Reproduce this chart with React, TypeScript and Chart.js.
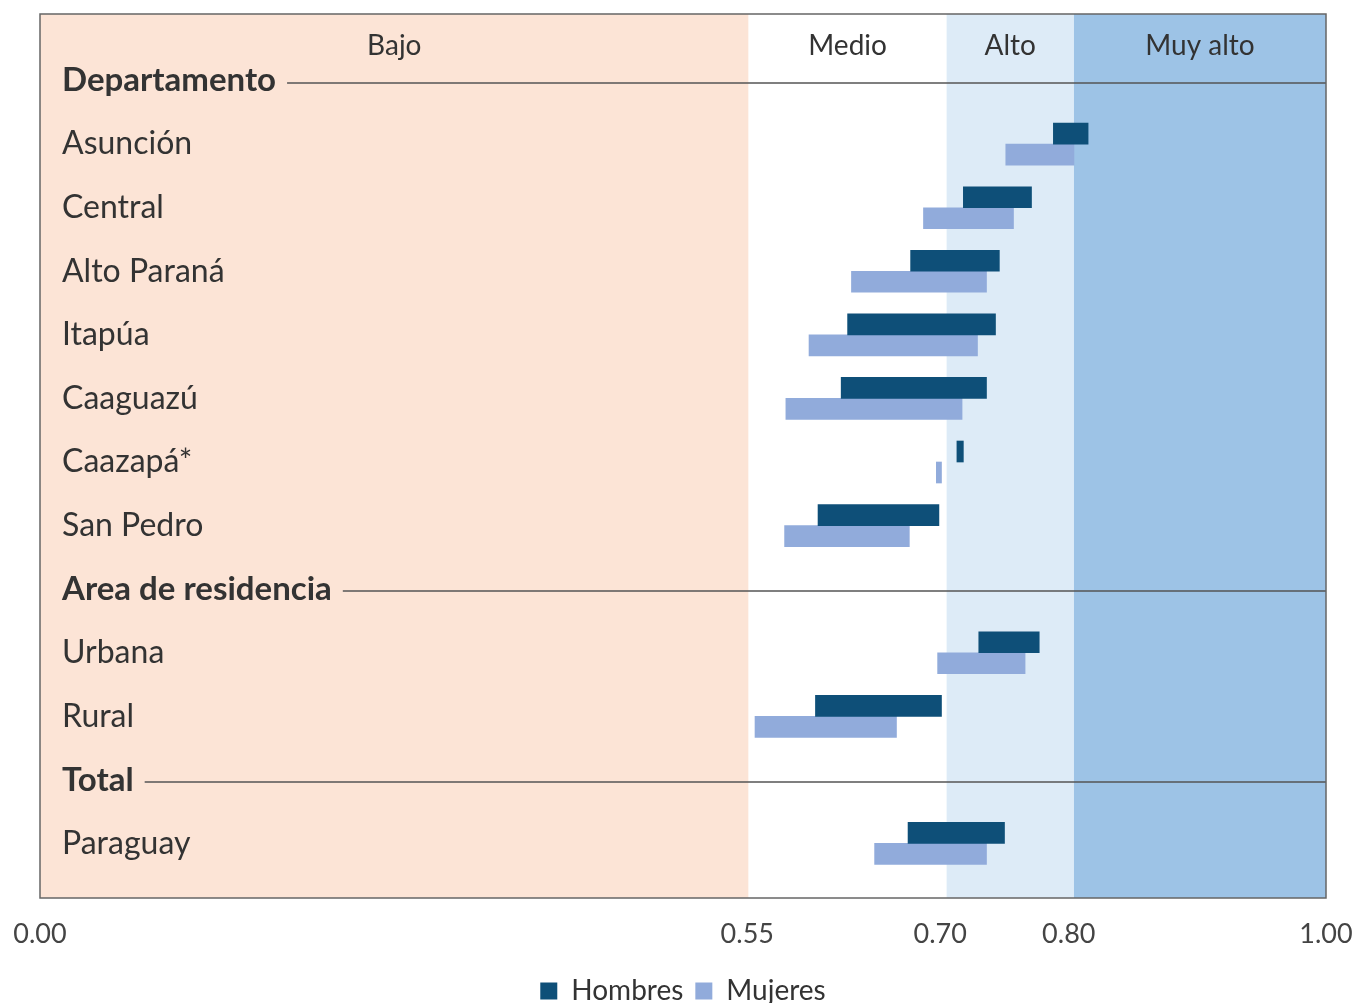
import React, { useEffect, useRef } from "react";
import { Chart, registerables } from "chart.js";

Chart.register(...registerables);

const rowLabels = [
  "Departamento",
  "Asunción",
  "Central",
  "Alto Paraná",
  "Itapúa",
  "Caaguazú",
  "Caazapá*",
  "San Pedro",
  "Area de residencia",
  "Urbana",
  "Rural",
  "Total",
  "Paraguay",
];
const headerRows = [0, 8, 11];

const hombresLow = [null, 0.788, 0.718, 0.677, 0.628, 0.623, 0.713, 0.605, null, 0.73, 0.603, null, 0.675];
const hombresHigh = [null, 0.815, 0.771, 0.746, 0.743, 0.736, 0.718, 0.699, null, 0.777, 0.701, null, 0.75];
const mujeresLow = [null, 0.751, 0.687, 0.631, 0.598, 0.58, 0.697, 0.579, null, 0.698, 0.556, null, 0.649];
const mujeresHigh = [null, 0.804, 0.757, 0.736, 0.729, 0.717, 0.701, 0.676, null, 0.766, 0.666, null, 0.736];

const bandLabels = ["Bajo", "Medio", "Alto", "Muy alto"];
const bandEdges = [0, 0.551, 0.705, 0.804, 1.0];
const bandColors = ["#FCE4D6", "#FFFFFF", "#DDEBF7", "#9DC3E6"];
const xTickValues = [0, 0.55, 0.7, 0.8, 1.0];

const FONT = "Lato";
const TEXT = "#333333";

function toPoints(lo: (number | null)[], hi: (number | null)[]) {
  const pts: { y: number; x: [number, number] }[] = [];
  lo.forEach((l, i) => {
    const h = hi[i];
    if (l !== null && h !== null) pts.push({ y: i, x: [l, h] });
  });
  return pts;
}

const bandsPlugin = {
  id: "bands",
  beforeDraw(chart: any) {
    const { ctx, chartArea } = chart;
    const xs = chart.scales.x;
    const ys = chart.scales.y;
    ctx.save();
    for (let i = 0; i < bandLabels.length; i++) {
      const x0 = xs.getPixelForValue(bandEdges[i]);
      const x1 = xs.getPixelForValue(bandEdges[i + 1]);
      ctx.fillStyle = bandColors[i];
      ctx.fillRect(x0, chartArea.top, x1 - x0, chartArea.bottom - chartArea.top);
    }
    ctx.fillStyle = TEXT;
    ctx.font = `28px ${FONT}`;
    ctx.textAlign = "center";
    ctx.textBaseline = "middle";
    const ly = ys.getPixelForValue(-0.55);
    for (let i = 0; i < bandLabels.length; i++) {
      const x0 = xs.getPixelForValue(bandEdges[i]);
      const x1 = xs.getPixelForValue(bandEdges[i + 1]);
      ctx.fillText(bandLabels[i], (x0 + x1) / 2, ly);
    }
    ctx.restore();
  },
  beforeDatasetsDraw(chart: any) {
    const { ctx, chartArea } = chart;
    const ys = chart.scales.y;
    ctx.save();
    ctx.font = `bold 33px ${FONT}`;
    ctx.strokeStyle = "#555555";
    ctx.lineWidth = 1.5;
    headerRows.forEach((r) => {
      const w = ctx.measureText(rowLabels[r]).width;
      const y = Math.round(ys.getPixelForValue(r)) + 2;
      ctx.beginPath();
      ctx.moveTo(chartArea.left + 22 + w + 11, y);
      ctx.lineTo(chartArea.right, y);
      ctx.stroke();
    });
    ctx.restore();
  },
  afterDatasetsDraw(chart: any) {
    const { ctx, chartArea } = chart;
    ctx.save();
    ctx.strokeStyle = "#666666";
    ctx.lineWidth = 1.5;
    ctx.strokeRect(chartArea.left, chartArea.top, chartArea.right - chartArea.left, chartArea.bottom - chartArea.top);
    ctx.restore();
  },
};

export default function App() {
  const ref = useRef<HTMLCanvasElement>(null);
  useEffect(() => {
    if (!ref.current) return;
    const chart = new Chart(ref.current, {
      type: "bar",
      data: {
        datasets: [
          {
            label: "Hombres",
            data: toPoints(hombresLow, hombresHigh) as any,
            backgroundColor: "#0E4F78",
            borderWidth: 0,
            barThickness: 21,
          },
          {
            label: "Mujeres",
            data: toPoints(mujeresLow, mujeresHigh) as any,
            backgroundColor: "#91ABDB",
            borderWidth: 0,
            barThickness: 21,
          },
        ],
      },
      options: {
        indexAxis: "y",
        responsive: false,
        animation: false,
        devicePixelRatio: 1,
        layout: { padding: { left: 40, right: 30, top: 14, bottom: 0 } },
        plugins: {
          legend: {
            position: "bottom",
            labels: {
              boxWidth: 17,
              boxHeight: 17,
              padding: 12,
              color: TEXT,
              font: { family: FONT, size: 28 },
            },
          },
          tooltip: { enabled: false },
        },
        scales: {
          x: {
            type: "linear",
            min: 0,
            max: 1,
            offset: false,
            grid: { display: false, drawTicks: false },
            border: { display: false },
            afterBuildTicks: (s: any) => {
              s.ticks = xTickValues.map((v) => ({ value: v }));
            },
            afterFit: (s: any) => {
              s.paddingLeft = 0;
              s.paddingRight = 0;
              s.height = 67;
            },
            ticks: {
              padding: 20,
              color: "#444444",
              font: { family: FONT, size: 27 },
              callback: (v: any) => Number(v).toFixed(2),
            },
          },
          y: {
            type: "linear",
            reverse: true,
            offset: false,
            min: -1.047,
            max: 12.858,
            grid: { display: false, drawTicks: false, offset: false },
            border: { display: false },
            afterBuildTicks: (s: any) => {
              s.ticks = rowLabels.map((_, i) => ({ value: i }));
            },
            afterFit: (s: any) => {
              s.width = 0;
              s.paddingTop = 0;
              s.paddingBottom = 0;
            },
            ticks: {
              mirror: true,
              padding: 22,
              autoSkip: false,
              color: TEXT,
              font: (c: any) =>
                headerRows.includes(c.index)
                  ? { family: FONT, size: 33, weight: "bold" }
                  : { family: FONT, size: 32, weight: "normal" },
              callback: (v: any) => rowLabels[Number(v)] ?? "",
            },
          },
        },
      },
      plugins: [bandsPlugin],
    });
    return () => chart.destroy();
  }, []);
  return (
    <div style={{ position: "fixed", left: 0, top: 0, width: 1356, height: 1003, overflow: "hidden", background: "#fff" }}>
      <canvas ref={ref} width={1356} height={1015} style={{ width: 1356, height: 1015, display: "block" }} />
    </div>
  );
}
